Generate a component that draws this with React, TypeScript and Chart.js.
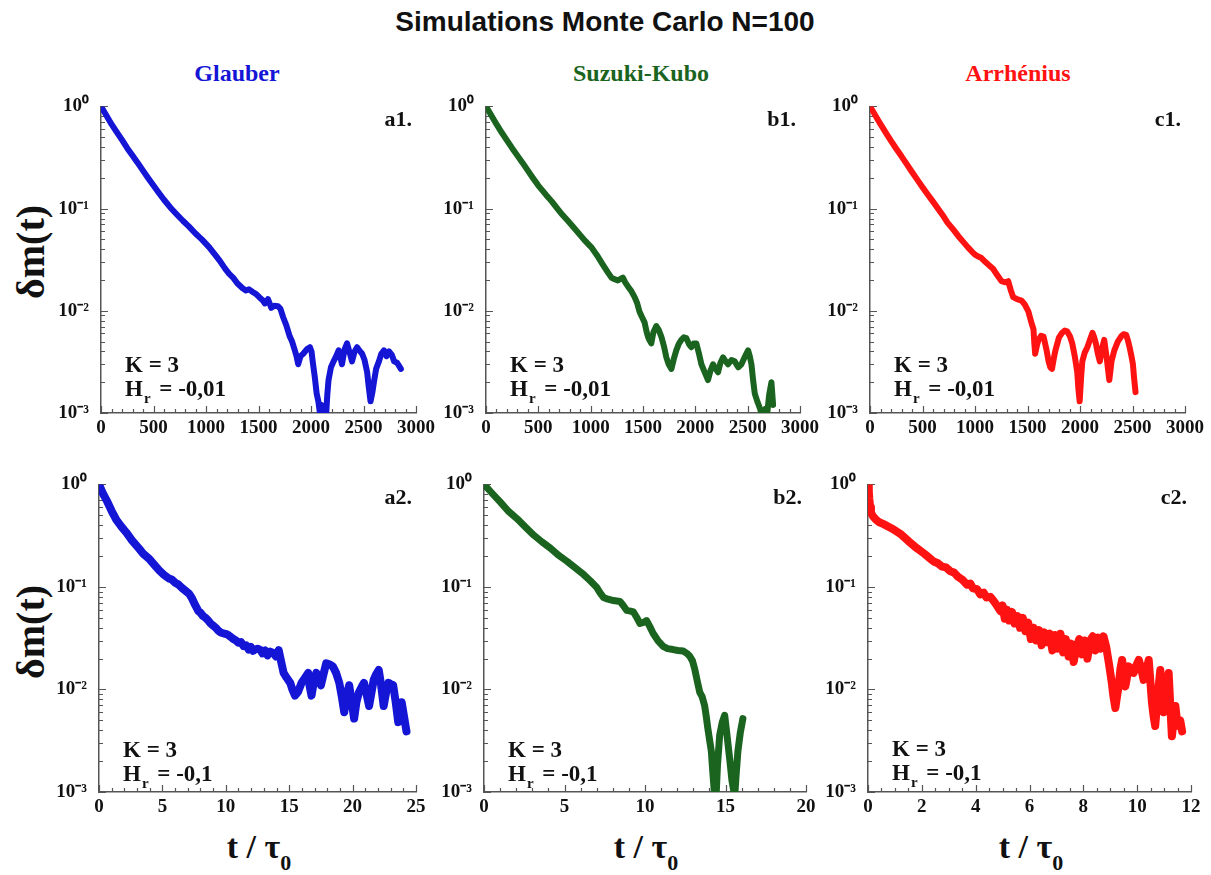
import React, { useEffect, useRef } from 'react';
import { Chart, registerables } from 'chart.js';

Chart.register(...registerables);

const SERIF = "'Liberation Serif', 'Times New Roman', serif";
const SANS = "'Liberation Sans', Arial, sans-serif";

// ---------- Data ----------
const a1T = [0, 50, 100, 150, 200, 250, 300, 350, 400, 450, 500, 550, 600, 662, 720, 780, 836, 900, 960, 1029, 1080, 1130, 1180, 1221, 1260, 1300, 1349, 1380, 1410, 1445, 1480, 1510, 1542, 1560, 1590, 1622, 1650, 1686, 1710, 1734, 1765, 1798, 1820, 1846, 1862, 1878, 1900, 1926, 1960, 1990, 2005, 2016, 2035, 2054, 2070, 2086, 2100, 2118, 2144, 2155, 2167, 2190, 2215, 2240, 2263, 2280, 2295, 2320, 2343, 2365, 2391, 2415, 2439, 2460, 2487, 2510, 2535, 2550, 2567, 2585, 2599, 2620, 2647, 2670, 2695, 2720, 2743, 2770, 2792, 2820, 2856];
const a1V = [1.0, 0.82, 0.67, 0.56, 0.47, 0.39, 0.33, 0.28, 0.235, 0.198, 0.168, 0.143, 0.122, 0.102, 0.088, 0.076, 0.067, 0.057, 0.05, 0.042, 0.036, 0.031, 0.026, 0.023, 0.021, 0.0185, 0.0166, 0.0158, 0.0162, 0.0153, 0.0145, 0.0135, 0.0126, 0.0118, 0.013, 0.0107, 0.0112, 0.0111, 0.0104, 0.0087, 0.0072, 0.0056, 0.005, 0.0041, 0.0036, 0.003, 0.0036, 0.0038, 0.0042, 0.0044, 0.004, 0.0032, 0.0023, 0.00155, 0.0013, 0.00098, 0.0012, 0.00112, 0.00095, 0.0015, 0.0021, 0.0028, 0.0032, 0.0036, 0.0041, 0.0035, 0.003, 0.0042, 0.0048, 0.004, 0.0032, 0.004, 0.0044, 0.0041, 0.0038, 0.0033, 0.0025, 0.0018, 0.0013, 0.0016, 0.002, 0.0027, 0.0032, 0.0038, 0.0041, 0.0036, 0.004, 0.0037, 0.0032, 0.0031, 0.0027];

const b1T = [0, 50, 100, 150, 200, 250, 300, 350, 400, 450, 500, 574, 630, 682, 730, 782, 840, 900, 950, 1005, 1060, 1110, 1164, 1200, 1228, 1260, 1308, 1330, 1356, 1390, 1420, 1445, 1467, 1490, 1515, 1535, 1547, 1560, 1579, 1600, 1627, 1650, 1675, 1700, 1723, 1745, 1771, 1795, 1818, 1840, 1866, 1890, 1914, 1940, 1962, 1985, 2010, 2035, 2058, 2090, 2121, 2145, 2169, 2195, 2217, 2240, 2265, 2290, 2313, 2345, 2376, 2410, 2440, 2470, 2504, 2520, 2536, 2552, 2568, 2592, 2616, 2632, 2648, 2670, 2689, 2705, 2727, 2743];
const b1V = [1.0, 0.82, 0.67, 0.555, 0.465, 0.39, 0.33, 0.28, 0.235, 0.198, 0.168, 0.136, 0.117, 0.1, 0.087, 0.076, 0.065, 0.055, 0.048, 0.042, 0.035, 0.029, 0.0238, 0.021, 0.0204, 0.0198, 0.0211, 0.019, 0.0173, 0.0155, 0.0136, 0.0118, 0.0098, 0.0087, 0.0077, 0.0062, 0.0056, 0.0052, 0.0048, 0.0062, 0.0071, 0.0065, 0.0056, 0.0045, 0.0035, 0.003, 0.0027, 0.0034, 0.0041, 0.0047, 0.0052, 0.0055, 0.0054, 0.0047, 0.0044, 0.0048, 0.0048, 0.0038, 0.003, 0.0025, 0.0021, 0.0026, 0.003, 0.0027, 0.0025, 0.0031, 0.0035, 0.0032, 0.003, 0.0033, 0.0032, 0.0028, 0.003, 0.0035, 0.0041, 0.0036, 0.003, 0.0021, 0.00155, 0.0013, 0.00112, 0.001, 0.00095, 0.0011, 0.00104, 0.0015, 0.002, 0.0012];

const c1T = [0, 50, 100, 150, 200, 250, 300, 350, 400, 450, 500, 546, 600, 650, 700, 738, 790, 840, 890, 931, 970, 1000, 1030, 1059, 1100, 1140, 1172, 1210, 1252, 1290, 1316, 1340, 1364, 1400, 1444, 1475, 1509, 1535, 1557, 1565, 1573, 1590, 1605, 1630, 1653, 1680, 1701, 1717, 1733, 1750, 1766, 1800, 1830, 1855, 1878, 1905, 1926, 1950, 1974, 1985, 1997, 2010, 2022, 2045, 2070, 2095, 2119, 2135, 2151, 2170, 2189, 2210, 2231, 2255, 2279, 2300, 2327, 2360, 2391, 2415, 2440, 2455, 2472, 2490, 2504, 2515, 2529];
const c1V = [1.0, 0.82, 0.67, 0.555, 0.46, 0.385, 0.325, 0.272, 0.228, 0.192, 0.162, 0.139, 0.117, 0.099, 0.084, 0.073, 0.063, 0.054, 0.047, 0.042, 0.038, 0.0355, 0.034, 0.033, 0.03, 0.0275, 0.0258, 0.0225, 0.0195, 0.019, 0.0195, 0.016, 0.0136, 0.013, 0.0126, 0.0115, 0.0098, 0.0078, 0.0066, 0.0048, 0.0038, 0.0046, 0.0052, 0.0057, 0.0056, 0.0042, 0.0032, 0.0028, 0.0027, 0.0034, 0.0041, 0.0055, 0.0061, 0.0064, 0.0063, 0.0056, 0.0048, 0.0036, 0.0025, 0.0017, 0.0013, 0.0022, 0.0032, 0.0039, 0.0044, 0.0052, 0.0061, 0.0055, 0.0048, 0.0038, 0.0032, 0.0043, 0.0052, 0.0034, 0.0021, 0.0032, 0.0041, 0.005, 0.0056, 0.0059, 0.0058, 0.0052, 0.0044, 0.0036, 0.003, 0.0022, 0.0016];

const a2T = [0, 0.3, 0.6, 1.0, 1.37, 1.75, 2.15, 2.6, 3.18, 3.5, 3.96, 4.35, 4.73, 5.1, 5.5, 5.75, 6.0, 6.25, 6.54, 6.9, 7.1, 7.32, 7.6, 7.84, 8.0, 8.2, 8.4, 8.61, 8.8, 9.0, 9.2, 9.39, 9.6, 9.9, 10.1, 10.4, 10.6, 10.8, 11.0, 11.2, 11.4, 11.6, 11.8, 11.97, 12.15, 12.3, 12.5, 12.75, 12.9, 13.1, 13.3, 13.5, 13.8, 13.95, 14.17, 14.35, 14.56, 14.8, 15.08, 15.25, 15.46, 15.7, 15.98, 16.25, 16.5, 16.6, 16.76, 16.95, 17.14, 17.3, 17.5, 17.7, 17.92, 18.2, 18.44, 18.7, 18.95, 19.15, 19.34, 19.5, 19.73, 19.9, 20.12, 20.3, 20.5, 20.7, 20.9, 21.1, 21.3, 21.5, 21.67, 21.85, 22.06, 22.25, 22.45, 22.65, 22.83, 23.0, 23.2, 23.4, 23.6, 23.75, 23.87, 24.05, 24.25];
const a2V = [1.0, 0.82, 0.7, 0.55, 0.45, 0.39, 0.34, 0.285, 0.235, 0.21, 0.188, 0.165, 0.146, 0.132, 0.121, 0.118, 0.11, 0.106, 0.098, 0.09, 0.086, 0.078, 0.066, 0.058, 0.056, 0.052, 0.05, 0.047, 0.044, 0.042, 0.04, 0.0376, 0.036, 0.035, 0.0345, 0.0325, 0.031, 0.03, 0.0285, 0.029, 0.0265, 0.027, 0.0245, 0.026, 0.0238, 0.0245, 0.025, 0.0242, 0.0225, 0.024, 0.0215, 0.0234, 0.0225, 0.021, 0.0242, 0.019, 0.0145, 0.013, 0.0116, 0.01, 0.0087, 0.0095, 0.0116, 0.013, 0.0145, 0.011, 0.0087, 0.012, 0.0145, 0.0125, 0.011, 0.014, 0.018, 0.0175, 0.0168, 0.0145, 0.0116, 0.0085, 0.006, 0.0085, 0.011, 0.008, 0.0052, 0.0075, 0.0094, 0.0105, 0.0116, 0.009, 0.0069, 0.0095, 0.0125, 0.014, 0.0155, 0.011, 0.0069, 0.0095, 0.0116, 0.0113, 0.011, 0.0075, 0.0048, 0.0062, 0.0075, 0.0055, 0.0039];

const b2T = [0, 0.5, 1.03, 1.5, 2.06, 2.6, 3.09, 3.6, 4.12, 4.6, 5.15, 5.7, 6.19, 6.6, 7.0, 7.2, 7.42, 7.7, 8.04, 8.45, 8.65, 8.87, 9.1, 9.28, 9.5, 9.69, 9.9, 10.1, 10.3, 10.5, 10.8, 11.13, 11.4, 11.75, 12.05, 12.37, 12.6, 12.78, 12.95, 13.09, 13.25, 13.4, 13.55, 13.7, 13.8, 13.9, 14.0, 14.12, 14.22, 14.33, 14.4, 14.5, 14.64, 14.8, 14.95, 15.1, 15.26, 15.4, 15.57, 15.65, 15.77, 15.92, 16.08];
const b2V = [1.0, 0.82, 0.667, 0.55, 0.462, 0.38, 0.32, 0.275, 0.239, 0.205, 0.178, 0.152, 0.132, 0.115, 0.099, 0.088, 0.079, 0.076, 0.0736, 0.072, 0.066, 0.059, 0.058, 0.057, 0.05, 0.044, 0.045, 0.047, 0.041, 0.0353, 0.03, 0.0263, 0.025, 0.0245, 0.024, 0.0237, 0.0225, 0.0211, 0.019, 0.0158, 0.012, 0.0094, 0.0085, 0.007, 0.0055, 0.0042, 0.0033, 0.0025, 0.0015, 0.0009, 0.0008, 0.0018, 0.0036, 0.0048, 0.0056, 0.0035, 0.0021, 0.0013, 0.0009, 0.0014, 0.0025, 0.0038, 0.0052];

const c2T = [0, 0.03, 0.05, 0.08, 0.11, 0.18, 0.27, 0.4, 0.58, 0.9, 1.2, 1.5, 1.82, 2.1, 2.3, 2.44, 2.6, 2.75, 2.9, 3.06, 3.2, 3.35, 3.5, 3.68, 3.8, 3.9, 4.05, 4.17, 4.3, 4.4, 4.55, 4.67, 4.8, 4.92, 5.0, 5.08, 5.16, 5.25, 5.35, 5.45, 5.55, 5.65, 5.75, 5.85, 5.95, 6.05, 6.15, 6.25, 6.35, 6.45, 6.55, 6.65, 6.75, 6.85, 6.95, 7.05, 7.15, 7.25, 7.35, 7.45, 7.55, 7.64, 7.75, 7.85, 7.95, 8.05, 8.15, 8.25, 8.35, 8.45, 8.55, 8.65, 8.75, 8.85, 8.95, 9.05, 9.12, 9.19, 9.25, 9.31, 9.38, 9.44, 9.5, 9.56, 9.62, 9.68, 9.78, 9.87, 9.96, 10.06, 10.15, 10.24, 10.33, 10.43, 10.49, 10.55, 10.61, 10.67, 10.77, 10.86, 10.92, 10.98, 11.07, 11.17, 11.23, 11.29, 11.35, 11.42, 11.48, 11.54, 11.6, 11.67];
const c2V = [1.0, 0.85, 0.72, 0.6, 0.53, 0.49, 0.46, 0.43, 0.41, 0.37, 0.33, 0.28, 0.238, 0.21, 0.19, 0.177, 0.17, 0.158, 0.155, 0.142, 0.138, 0.125, 0.118, 0.105, 0.108, 0.097, 0.095, 0.0846, 0.088, 0.079, 0.08, 0.073, 0.065, 0.058, 0.066, 0.049, 0.06, 0.047, 0.057, 0.044, 0.052, 0.04, 0.05, 0.037, 0.045, 0.031, 0.04, 0.03, 0.038, 0.027, 0.036, 0.029, 0.035, 0.024, 0.034, 0.025, 0.035, 0.023, 0.031, 0.021, 0.028, 0.0185, 0.026, 0.031, 0.022, 0.03, 0.02, 0.03, 0.033, 0.024, 0.032, 0.025, 0.033, 0.026, 0.018, 0.012, 0.0085, 0.0066, 0.0085, 0.0107, 0.016, 0.0194, 0.014, 0.0107, 0.013, 0.0168, 0.016, 0.0145, 0.017, 0.0194, 0.016, 0.0124, 0.015, 0.0194, 0.012, 0.0074, 0.0055, 0.0044, 0.009, 0.0155, 0.009, 0.006, 0.01, 0.0145, 0.007, 0.0035, 0.0048, 0.0069, 0.005, 0.0044, 0.005, 0.0039];

const yDecades = [0.001, 0.01, 0.1, 1];
const topXMax = 3000;
const topXStep = 500;
const bottomXMax = [25, 20, 12];
const bottomXStep = [5, 5, 2];

const mainTitle = 'Simulations Monte Carlo N=100';
const columnTitles = ['Glauber', 'Suzuki-Kubo', 'Arrhénius'];
const panelLabels = ['a1.', 'b1.', 'c1.', 'a2.', 'b2.', 'c2.'];
const hTexts = [' = -0,01', ' = -0,1'];

const BLUE = '#1515d6';
const GREEN = '#1b6420';
const RED = '#ff1212';

// ---------- Layout (page pixels of plot areas) ----------
type Panel = {
  label: string;
  t: number[];
  v: number[];
  color: string;
  xMax: number;
  xStep: number;
  xMinor: number;
  L: number; R: number; T: number; B: number;
  bw: number;
  hText: string;
  kOff: number; hOff: number;
};

const PADL = 62, PADT = 16, PADR = 32, PADB = 36;

const panels: Panel[] = [
  { label: panelLabels[0], t: a1T, v: a1V, color: BLUE, xMax: topXMax, xStep: topXStep, xMinor: 100, L: 101, R: 416, T: 99, B: 413, bw: 6, hText: hTexts[0], kOff: 41, hOff: 17 },
  { label: panelLabels[1], t: b1T, v: b1V, color: GREEN, xMax: topXMax, xStep: topXStep, xMinor: 100, L: 486, R: 800, T: 99, B: 413, bw: 6, hText: hTexts[0], kOff: 41, hOff: 17 },
  { label: panelLabels[2], t: c1T, v: c1V, color: RED, xMax: topXMax, xStep: topXStep, xMinor: 100, L: 870, R: 1185, T: 99, B: 413, bw: 6, hText: hTexts[0], kOff: 41, hOff: 17 },
  { label: panelLabels[3], t: a2T, v: a2V, color: BLUE, xMax: bottomXMax[0], xStep: bottomXStep[0], xMinor: 1, L: 99, R: 416, T: 477, B: 792, bw: 8, hText: hTexts[1], kOff: 35, hOff: 11 },
  { label: panelLabels[4], t: b2T, v: b2V, color: GREEN, xMax: bottomXMax[1], xStep: bottomXStep[1], xMinor: 1, L: 484, R: 806, T: 477, B: 792, bw: 7, hText: hTexts[1], kOff: 35, hOff: 11 },
  { label: panelLabels[5], t: c2T, v: c2V, color: RED, xMax: bottomXMax[2], xStep: bottomXStep[2], xMinor: 0.5, L: 868, R: 1191, T: 477, B: 792, bw: 8, hText: hTexts[1], kOff: 36, hOff: 12 },
];

const SUP: Record<string, string> = { '0': '⁰', '1': '¹', '2': '²', '3': '³', '-': '⁻' };
const supLabel = (v: number) => {
  const e = Math.round(Math.log10(v));
  return '10' + String(e).split('').map((c) => SUP[c] || c).join('');
};

const decorPlugin = {
  id: 'decor',
  beforeDatasetsDraw(chart: any) {
    const o = chart.options.plugins.decor;
    const { ctx, chartArea } = chart;
    const xs = chart.scales.x;
    const ys = chart.scales.y;
    ctx.save();
    ctx.strokeStyle = '#555';
    ctx.lineWidth = 1.2;
    ctx.beginPath();
    const n = Math.round(o.xMax / o.xMinor);
    for (let i = 0; i <= n; i++) {
      const val = i * o.xMinor;
      const px = Math.round(xs.getPixelForValue(val)) + 0.5;
      const major = Math.abs(val / o.xStep - Math.round(val / o.xStep)) < 1e-6;
      const len = major ? 7 : 4;
      ctx.moveTo(px, chartArea.bottom);
      ctx.lineTo(px, chartArea.bottom - len);
    }
    for (let d = -3; d <= 0; d++) {
      for (let m = 1; m <= 9; m++) {
        const val = m * Math.pow(10, d);
        if (val > 1.0001) break;
        const py = Math.round(ys.getPixelForValue(val)) + 0.5;
        const len = m === 1 ? 7 : 4;
        ctx.moveTo(chartArea.left, py);
        ctx.lineTo(chartArea.left + len, py);
      }
    }
    ctx.stroke();
    ctx.restore();
  },
  afterDraw(chart: any) {
    const o = chart.options.plugins.decor;
    const { ctx, chartArea } = chart;
    ctx.save();
    ctx.fillStyle = '#111';
    ctx.textBaseline = 'alphabetic';
    ctx.font = `bold 22px ${SERIF}`;
    ctx.textAlign = 'right';
    ctx.fillText(o.label, chartArea.right - 4, chartArea.top + 20);
    ctx.textAlign = 'left';
    const x0 = chartArea.left + 24;
    ctx.font = `bold 23px ${SERIF}`;
    ctx.fillText('K = 3', x0, chartArea.bottom - o.kOff);
    const hy = chartArea.bottom - o.hOff;
    ctx.fillText('H', x0, hy);
    const wH = ctx.measureText('H').width;
    ctx.font = `bold 15px ${SERIF}`;
    ctx.fillText('r', x0 + wH + 1, hy + 7);
    const wr = ctx.measureText('r').width;
    ctx.font = `bold 23px ${SERIF}`;
    ctx.fillText(o.hText, x0 + wH + wr + 4, hy);
    ctx.restore();
  },
};

function PanelChart({ p }: { p: Panel }) {
  const ref = useRef<HTMLCanvasElement>(null);
  const w = p.R - p.L + PADL + PADR;
  const h = p.B - p.T + PADT + PADB;
  useEffect(() => {
    if (!ref.current) return;
    const data = p.t.map((x, i) => ({ x, y: p.v[i] }));
    const chart = new Chart(ref.current, {
      type: 'line',
      data: {
        datasets: [
          {
            data,
            borderColor: p.color,
            backgroundColor: p.color,
            borderWidth: p.bw,
            pointRadius: 0,
            tension: 0,
            borderJoinStyle: 'round',
            borderCapStyle: 'round',
          },
        ],
      },
      options: {
        animation: false,
        responsive: false,
        maintainAspectRatio: false,
        events: [],
        layout: { padding: { left: 0, top: PADT, right: PADR, bottom: 0 } },
        plugins: {
          legend: { display: false },
          tooltip: { enabled: false },
          title: { display: false },
          decor: { label: p.label, xMax: p.xMax, xStep: p.xStep, xMinor: p.xMinor, hText: p.hText, kOff: p.kOff, hOff: p.hOff },
        } as any,
        scales: {
          x: {
            type: 'linear',
            min: 0,
            max: p.xMax,
            grid: { display: false, drawTicks: false },
            border: { display: true, color: '#555', width: 1.5 },
            ticks: {
              stepSize: p.xStep,
              autoSkip: false,
              maxRotation: 0,
              padding: 4,
              color: '#111',
              font: { family: SERIF, size: 19, weight: 'bold' },
              callback: (v: any) => String(Number(v)),
            },
            afterFit: (s: any) => { s.height = PADB; },
          },
          y: {
            type: 'logarithmic',
            min: 0.001,
            max: 1,
            grid: { display: false, drawTicks: false },
            border: { display: true, color: '#555', width: 1.5 },
            afterBuildTicks: (s: any) => { s.ticks = yDecades.map((value) => ({ value })); },
            ticks: {
              padding: 12,
              color: '#111',
              font: { family: SERIF, size: 19, weight: 'bold' },
              callback: (v: any) => supLabel(Number(v)),
            },
            afterFit: (s: any) => { s.width = PADL; },
          },
        },
      },
      plugins: [decorPlugin],
    } as any);
    return () => chart.destroy();
  }, []);
  return (
    <canvas
      ref={ref}
      width={w}
      height={h}
      style={{ position: 'absolute', left: p.L - PADL, top: p.T - PADT, width: w, height: h }}
    />
  );
}

const textBase: React.CSSProperties = {
  position: 'absolute',
  lineHeight: 1,
  whiteSpace: 'nowrap',
  fontWeight: 'bold',
};

export default function App() {
  const colCenters = [237, 641, 1018];
  const colColors = [BLUE, GREEN, RED];
  const bottomCenters = [259, 646, 1031];
  return (
    <div style={{ position: 'absolute', left: 0, top: 0, width: 1211, height: 875, background: '#fff', overflow: 'hidden' }}>
      <div style={{ ...textBase, left: 605, top: 8, transform: 'translateX(-50%)', fontFamily: SANS, fontSize: 28, color: '#111' }}>
        {mainTitle}
      </div>
      {columnTitles.map((t, i) => (
        <div key={t} style={{ ...textBase, left: colCenters[i], top: 61, transform: 'translateX(-50%)', fontFamily: SERIF, fontSize: 24, color: colColors[i] }}>
          {t}
        </div>
      ))}
      {[252, 632].map((cy) => (
        <div key={cy} style={{ ...textBase, left: 31, top: cy, transform: 'translate(-50%, -50%) rotate(-90deg)', fontFamily: SERIF, fontSize: 40, color: '#111' }}>
          δm(t)
        </div>
      ))}
      {bottomCenters.map((cx) => (
        <div key={cx} style={{ ...textBase, left: cx, top: 830, transform: 'translateX(-50%)', fontFamily: SERIF, fontSize: 34, color: '#111' }}>
          t / τ<span style={{ fontSize: 22, position: 'relative', top: 12 }}>0</span>
        </div>
      ))}
      {panels.map((p) => (
        <PanelChart key={p.label} p={p} />
      ))}
    </div>
  );
}
